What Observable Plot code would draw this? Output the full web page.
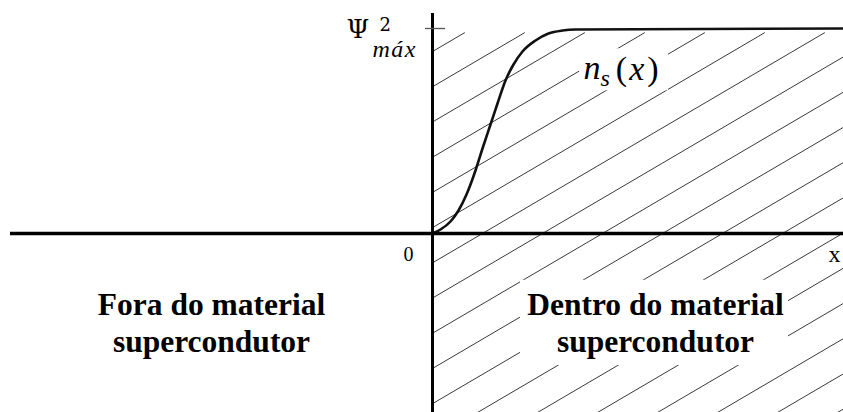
<!DOCTYPE html>
<html>
<head>
<meta charset="utf-8">
<script src="https://cdn.jsdelivr.net/npm/d3@7"></script>
<script src="https://cdn.jsdelivr.net/npm/@observablehq/plot@0.6"></script>
<style>
  html, body { margin: 0; padding: 0; background: #fff; overflow: hidden; }
  #chart svg { display: block; }
</style>
</head>
<body>
<div id="chart"></div>
<script>
// Density of superconducting electrons n_s(x) = |Ψ|² near the boundary x = 0
const curveX = [0, 0.08, 0.18, 0.26, 0.34, 0.43, 0.50, 0.58, 0.65, 0.73, 0.81, 0.90, 1.03, 1.16, 1.30, 1.43, 4.11];
const curveY = [0, 0.0195, 0.0585, 0.1122, 0.1902, 0.3073, 0.4146, 0.5317, 0.6341, 0.7463, 0.8244, 0.8878, 0.9415, 0.9756, 0.9902, 0.9951, 1.0];

// Axis tick and labels
const psiMax = 1.0;
const psiParts = ["Ψ", "2", "máx"];
const nsParts = ["n", "s", "(", "x", ")"];
const nsPos = {x: 1.51, y: 0.756};
const originLabel = "0";
const xAxisLabel = "x";

// Region labels (outside / inside the superconductor)
const regionLabels = ["Fora do material\nsupercondutor", "Dentro do material\nsupercondutor"];
const regionX = [-2.21, 2.23];
const regionBaseline = -0.5805;

// Plot frame
const xMin = -4.32, xMax = 4.11, yMin = -0.8732, yMax = 1.1366;

// Diagonal hatching of the superconducting side (x >= 0)
const hatchSlope = 0.2863;
const hatchTop = 0.98;
const hatchOrigins = d3.range(-6, 13).map(k => -0.1 + 0.6 * k);
const hatch = hatchOrigins.map(x0 => {
  const xa = Math.max(0, x0 + yMin / hatchSlope);
  const xb = Math.min(xMax, x0 + hatchTop / hatchSlope);
  return xa < xb ? {x1: xa, y1: hatchSlope * (xa - x0), x2: xb, y2: hatchSlope * (xb - x0)} : null;
}).filter(Boolean);

const curve = curveX.map((x, i) => ({x, y: curveY[i]}));

// White panels behind the labels that sit on the hatching
const panels = [
  {x1: regionX[1] - 1.35, x2: regionX[1] + 1.33, y1: regionBaseline - 0.064, y2: regionBaseline + 0.352},
  {x1: nsPos.x - 0.04, x2: nsPos.x + 0.85, y1: nsPos.y - 0.06, y2: nsPos.y + 0.145}
];

const psiText = psiParts.join("");
const nsText = nsParts.join("");

const chart = Plot.plot({
  width: 843,
  height: 412,
  margin: 0,
  x: {domain: [xMin, xMax], axis: null},
  y: {domain: [yMin, yMax], axis: null},
  style: {background: "#fff"},
  marks: [
    Plot.link(hatch, {x1: "x1", y1: "y1", x2: "x2", y2: "y2", stroke: "#3a3a3a", strokeWidth: 1}),
    Plot.rect(panels, {x1: "x1", x2: "x2", y1: "y1", y2: "y2", fill: "#fff"}),
    Plot.line(curve, {x: "x", y: "y", curve: "monotone-x", stroke: "#111", strokeWidth: 2.6}),
    Plot.ruleY([0], {x1: -4.22, x2: xMax, stroke: "#000", strokeWidth: 3.5}),
    Plot.ruleX([0], {y1: yMin, y2: 1.073, stroke: "#000", strokeWidth: 3}),
    Plot.ruleY([psiMax], {x1: -0.07, x2: 0.13, stroke: "#555", strokeWidth: 1.3}),
    Plot.text([psiText], {x: 0, y: psiMax, text: d => d, textAnchor: "start", lineAnchor: "bottom", fill: "#000"}),
    Plot.text([nsText], {x: nsPos.x, y: nsPos.y, text: d => d, textAnchor: "start", lineAnchor: "bottom", fill: "#000"}),
    Plot.text([originLabel], {x: 0, y: 0, text: d => d, dx: -24, dy: 28, lineAnchor: "bottom",
      fontFamily: "Liberation Serif", fontSize: 20, fill: "#000"}),
    Plot.text([xAxisLabel], {x: xMax, y: 0, text: d => d, dx: -9, dy: 29, lineAnchor: "bottom",
      fontFamily: "Liberation Serif", fontSize: 24, fill: "#000", stroke: "#fff", strokeWidth: 5}),
    Plot.text(regionLabels, {x: (d, i) => regionX[i], y: regionBaseline, text: d => d,
      textAnchor: "middle", lineAnchor: "bottom", lineHeight: 1.175,
      fontFamily: "Liberation Serif", fontWeight: "bold", fontSize: 31.5, fill: "#000"})
  ]
});

// Typeset the math labels with sub/superscripts
d3.select(chart).selectAll("text").each(function () {
  const t = d3.select(this);
  const content = this.textContent;
  if (content === psiText) {
    t.text(null).attr("y", null);
    t.append("tspan").attr("x", -86).attr("y", 9)
      .attr("font-family", "DejaVu Serif").attr("font-size", 26).text(psiParts[0]);
    t.append("tspan").attr("x", -53).attr("y", 2.5)
      .attr("font-family", "DejaVu Serif").attr("font-size", 18).text(psiParts[1]);
    t.append("tspan").attr("x", -60).attr("y", 28.5)
      .attr("font-family", "Liberation Serif").attr("font-style", "italic")
      .attr("font-size", 24).attr("letter-spacing", 1.5).text(psiParts[2]);
  } else if (content === nsText) {
    t.text(null).attr("y", null)
      .attr("font-family", "Liberation Serif").attr("font-size", 34);
    t.append("tspan").attr("font-style", "italic").text(nsParts[0]);
    t.append("tspan").attr("font-style", "italic").attr("font-size", 24).attr("dy", 7).text(nsParts[1]);
    t.append("tspan").attr("dx", 6).attr("dy", -6).text(nsParts[2]);
    t.append("tspan").attr("font-style", "italic").attr("dx", 2).text(nsParts[3]);
    t.append("tspan").attr("dx", 3).text(nsParts[4]);
  }
});

document.getElementById("chart").appendChild(chart);
</script>
</body>
</html>
